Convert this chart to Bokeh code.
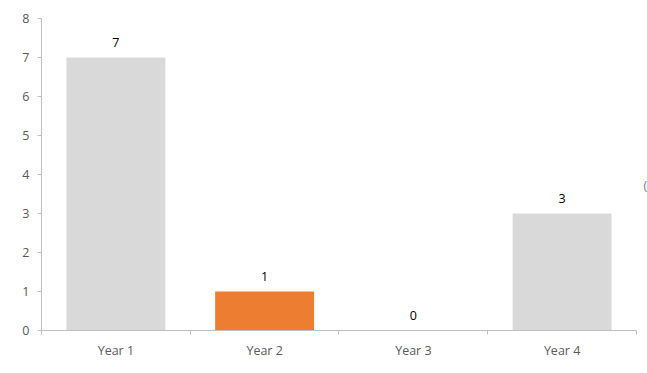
from bokeh.plotting import figure
from bokeh.models import ColumnDataSource, FixedTicker, Range1d
from bokeh.core.properties import value
from bokeh.embed import file_html
from bokeh.resources import INLINE

categories = ["Year 1", "Year 2", "Year 3", "Year 4"]
values = [7, 1, 0, 3]
colors = ["#D9D9D9", "#ED7D31", "#D9D9D9", "#D9D9D9"]
y_ticks = [0, 1, 2, 3, 4, 5, 6, 7, 8]

xs = [i + 1 for i in range(len(categories))]
src = ColumnDataSource(dict(x=xs, top=values, color=colors,
                            label=[str(v) for v in values]))

FONT = "Open Sans"
n = len(categories)

p = figure(width=647, height=373, output_backend="svg", toolbar_location=None,
           x_range=Range1d(0.5, n + 0.574), y_range=Range1d(0, 8),
           min_border_left=41, min_border_right=0, min_border_top=18, min_border_bottom=43)
p.outline_line_color = None
p.grid.grid_line_color = None
p.background_fill_color = "white"
p.border_fill_color = "white"

p.vbar(x="x", top="top", bottom=0, width=0.665, color="color", line_color=None, source=src)
p.text(x="x", y="top", text="label", source=src, text_align="center", text_baseline="middle",
       y_offset=-15, text_font=value(FONT), text_font_size="12.5px", text_color="#000000")

# clipped fragment of a legend at the right edge
p.text(x=[n + 0.547], y=[3.72], text=["("], text_align="left", text_baseline="middle",
       text_font=value(FONT), text_font_size="12.5px", text_color="#808080")

xa = p.xaxis[0]
xa.bounds = (0.5, n + 0.5)
xa.ticker = FixedTicker(ticks=xs, minor_ticks=[x - 0.5 for x in xs] + [xs[-1] + 0.5])
xa.major_label_overrides = {x: c for x, c in zip(xs, categories)}
xa.major_tick_line_color = None
xa.major_tick_out = 0
xa.major_tick_in = 0
xa.minor_tick_out = 4
xa.minor_tick_in = 0
xa.minor_tick_line_color = "#BFBFBF"
xa.axis_line_color = "#BFBFBF"
xa.major_label_standoff = 7
xa.major_label_text_font = FONT
xa.major_label_text_font_size = "12.5px"
xa.major_label_text_color = "#595959"

ya = p.yaxis[0]
ya.ticker = FixedTicker(ticks=y_ticks)
ya.major_tick_out = 4
ya.major_tick_in = 0
ya.minor_tick_line_color = None
ya.major_tick_line_color = "#BFBFBF"
ya.axis_line_color = "#BFBFBF"
ya.major_label_standoff = 8
ya.major_label_text_font = FONT
ya.major_label_text_font_size = "12.5px"
ya.major_label_text_color = "#595959"

open("out.html", "w").write(file_html(p, INLINE))
